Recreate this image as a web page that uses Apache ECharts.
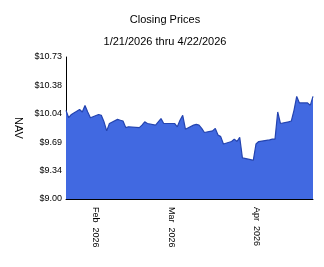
<!DOCTYPE html>
<html>
<head>
<meta charset="utf-8">
<script src="https://cdn.jsdelivr.net/npm/echarts@6/dist/echarts.min.js"></script>
<style>html,body{margin:0;padding:0;background:#fff}#c{width:324px;height:267px}</style>
</head>
<body>
<div id="c"></div>
<script>
const dates = [
'2026-01-21','2026-01-22','2026-01-23','2026-01-26','2026-01-27','2026-01-28','2026-01-29','2026-01-30',
'2026-02-02','2026-02-03','2026-02-04','2026-02-05','2026-02-06','2026-02-09','2026-02-10','2026-02-11','2026-02-12','2026-02-13',
'2026-02-17','2026-02-18','2026-02-19','2026-02-20','2026-02-23','2026-02-24','2026-02-25','2026-02-26','2026-02-27',
'2026-03-02','2026-03-03','2026-03-04','2026-03-05','2026-03-06','2026-03-09','2026-03-10','2026-03-11','2026-03-12','2026-03-13',
'2026-03-16','2026-03-17','2026-03-18','2026-03-19','2026-03-20','2026-03-23','2026-03-24','2026-03-25','2026-03-26','2026-03-27',
'2026-03-30','2026-03-31','2026-04-01','2026-04-02','2026-04-06','2026-04-07','2026-04-08','2026-04-09','2026-04-10',
'2026-04-13','2026-04-14','2026-04-15','2026-04-16','2026-04-17','2026-04-20','2026-04-21','2026-04-22'
];
const navValues = [
10.08,9.99,10.03,10.09,10.06,10.14,10.06,9.99,
10.03,10.02,9.94,9.83,9.92,9.97,9.96,9.95,9.87,9.88,
9.87,9.90,9.94,9.92,9.90,9.94,9.98,9.92,9.92,
9.92,9.88,9.96,10.02,9.85,9.90,9.91,9.90,9.86,9.81,
9.83,9.86,9.78,9.76,9.67,9.70,9.73,9.70,9.75,9.50,
9.48,9.47,9.67,9.70,9.72,9.73,9.73,10.06,9.92,
9.94,9.95,10.08,10.25,10.17,10.17,10.14,10.25
];
const monthTicks = ['2026-02-01','2026-03-01','2026-04-01'];
const monthLabels = ['Feb  2026','Mar  2026','Apr  2026'];
const yTickLabels = ['$9.00','$9.34','$9.69','$10.04','$10.38','$10.73'];
const startDate = '2026-01-21';
const endDate = '2026-04-22';

const data = dates.map((d, i) => [Date.parse(d), navValues[i]]);
const tickTs = monthTicks.map(d => Date.parse(d));
const font = "'Liberation Sans', Arial, sans-serif";

const chart = echarts.init(document.getElementById('c'), null, {renderer: 'canvas'});
chart.setOption({
  animation: false,
  backgroundColor: '#fff',
  title: [
    {text: 'Closing Prices', left: 160, top: 9, textAlign: 'center',
     textStyle: {fontFamily: font, fontSize: 11, fontWeight: 'normal', color: '#000'}},
    {text: '1/21/2026 thru 4/22/2026', left: 160, top: 31, textAlign: 'center',
     textStyle: {fontFamily: font, fontSize: 11, fontWeight: 'normal', color: '#000'}}
  ],
  grid: {left: 66, right: 11, top: 57, bottom: 68, containLabel: false},
  xAxis: {
    type: 'value',
    min: Date.parse(startDate),
    max: Date.parse(endDate),
    splitLine: {show: false},
    axisLine: {show: true, lineStyle: {color: '#000', width: 1}},
    axisTick: {show: false},
    axisLabel: {
      customValues: tickTs,
      rotate: -90,
      margin: 8,
      fontFamily: font, fontSize: 9, color: '#000',
      formatter: v => { const k = tickTs.indexOf(v); return k >= 0 ? monthLabels[k] : ''; }
    }
  },
  yAxis: {
    type: 'value',
    min: 9, max: 10.73, interval: 0.346,
    name: 'NAV',
    nameLocation: 'middle',
    nameRotate: -90,
    nameGap: 41,
    nameTextStyle: {fontFamily: font, fontSize: 11, color: '#000'},
    splitLine: {show: false},
    axisLine: {show: true, lineStyle: {color: '#000', width: 1}},
    axisTick: {show: false},
    axisLabel: {
      margin: 4,
      fontFamily: font, fontSize: 9, color: '#000',
      formatter: (v, i) => yTickLabels[i] || ''
    }
  },
  series: [{
    type: 'line',
    data: data,
    showSymbol: false,
    lineStyle: {color: '#2444b0', width: 1.2},
    areaStyle: {color: '#4169E1', opacity: 1, origin: 'start'},
    z: 1
  }]
});
</script>
</body>
</html>
